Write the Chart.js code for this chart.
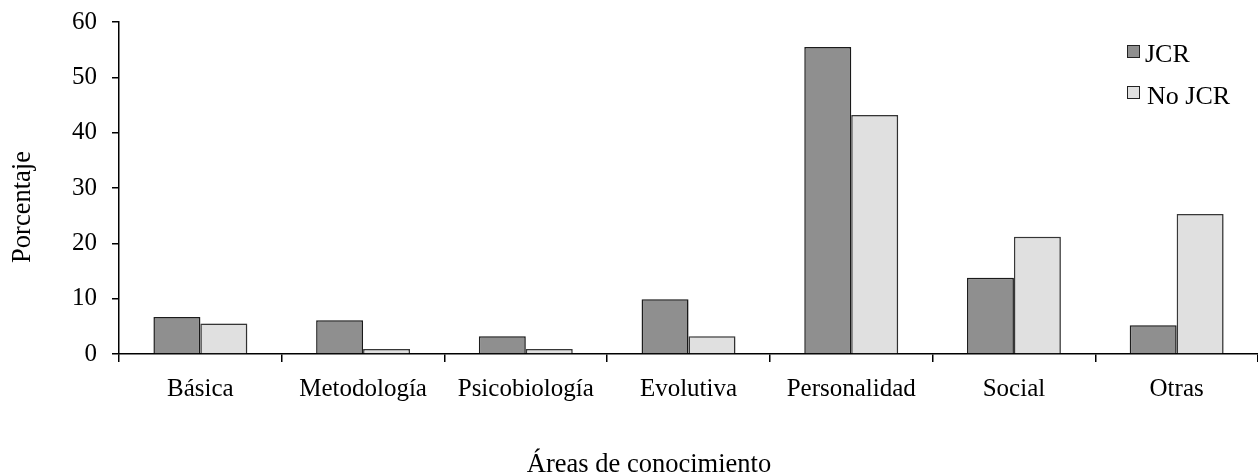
<!DOCTYPE html>
<html>
<head>
<meta charset="utf-8">
<script src="https://cdn.jsdelivr.net/npm/chart.js@4/dist/chart.umd.min.js"></script>
<style>
  html, body { margin: 0; padding: 0; background: #fff; }
  #wrap { position: relative; width: 1258px; height: 476px; }
</style>
</head>
<body>
<div id="wrap"><canvas id="c"></canvas></div>
<script>
const categories = ['Básica', 'Metodología', 'Psicobiología', 'Evolutiva', 'Personalidad', 'Social', 'Otras'];
const jcrValues = [6.7, 6.1, 3.2, 9.9, 55.5, 13.8, 5.2];
const noJcrValues = [5.5, 0.9, 0.9, 3.2, 43.2, 21.2, 25.3];
const seriesNames = ['JCR', 'No JCR'];
const yAxisTitle = 'Porcentaje';
const xAxisTitle = 'Áreas de conocimiento';

const FONT = '"Liberation Serif", "Times New Roman", serif';
const FS = 25;
const TFS = 26.5;

const shadowPlugin = {
  id: 'barShadow',
  beforeDatasetsDraw(chart) {
    const ctx = chart.ctx;
    ctx.save();
    ctx.shadowColor = 'rgba(0,0,0,0.22)';
    ctx.shadowBlur = 4;
    ctx.shadowOffsetX = 2;
    ctx.shadowOffsetY = 0;
  },
  afterDatasetsDraw(chart) {
    chart.ctx.restore();
  }
};

const labelsPlugin = {
  id: 'customLabels',
  afterDraw(chart) {
    const ctx = chart.ctx;
    ctx.save();
    ctx.fillStyle = '#000';
    ctx.font = TFS + 'px ' + FONT;
    ctx.textAlign = 'center';
    ctx.textBaseline = 'alphabetic';
    ctx.fillText(xAxisTitle, 649, 472);
    ctx.save();
    ctx.translate(30, 207);
    ctx.rotate(-Math.PI / 2);
    ctx.textAlign = 'center';
    ctx.textBaseline = 'alphabetic';
    ctx.fillText(yAxisTitle, 0, 0);
    ctx.restore();
    const ds = chart.data.datasets;
    const boxX = 1127, rows = [[45, 62], [86, 104]];
    ds.forEach((d, i) => {
      const [by, ty] = rows[i];
      ctx.fillStyle = d.backgroundColor;
      ctx.fillRect(boxX, by, 13, 13);
      ctx.strokeStyle = '#222';
      ctx.lineWidth = 1;
      ctx.strokeRect(boxX + 0.5, by + 0.5, 12, 12);
      ctx.fillStyle = '#000';
      ctx.font = '26px ' + FONT;
      ctx.textAlign = 'left';
      ctx.textBaseline = 'alphabetic';
      ctx.fillText(d.label, i === 0 ? 1145 : 1147, ty);
    });
    ctx.restore();
  }
};

new Chart(document.getElementById('c'), {
  type: 'bar',
  data: {
    labels: categories,
    datasets: [
      { label: seriesNames[0], data: jcrValues, backgroundColor: '#8f8f8f', borderColor: '#1e1e1e', borderWidth: 1.5, categoryPercentage: 0.577, barPercentage: 1.0 },
      { label: seriesNames[1], data: noJcrValues, backgroundColor: '#e0e0e0', borderColor: '#3a3a3a', borderWidth: 1.5, categoryPercentage: 0.577, barPercentage: 1.0 }
    ]
  },
  options: {
    responsive: true,
    maintainAspectRatio: false,
    animation: false,
    layout: { padding: { top: 22, left: 0, right: 0, bottom: 0 } },
    plugins: { legend: { display: false }, tooltip: { enabled: false }, title: { display: false } },
    scales: {
      x: {
        afterFit(s) { s.height = 122; s.paddingLeft = 0; s.paddingRight = 0; },
        grid: { display: true, drawOnChartArea: false, drawTicks: true, tickLength: 8, color: '#000', lineWidth: 1.5, offset: true },
        border: { display: true, color: '#000', width: 1.5 },
        ticks: { color: '#000', font: { family: FONT, size: FS }, padding: 12, maxRotation: 0, autoSkip: false }
      },
      y: {
        min: 0, max: 60,
        afterFit(s) { s.width = 119; s.paddingTop = 0; s.paddingBottom = 0; },
        grid: { display: true, drawOnChartArea: false, drawTicks: true, tickLength: 7, color: '#000', lineWidth: 1.5 },
        border: { display: true, color: '#000', width: 1.5 },
        ticks: { stepSize: 10, color: '#000', font: { family: FONT, size: FS }, padding: 15 }
      }
    }
  },
  plugins: [shadowPlugin, labelsPlugin]
});
</script>
</body>
</html>
